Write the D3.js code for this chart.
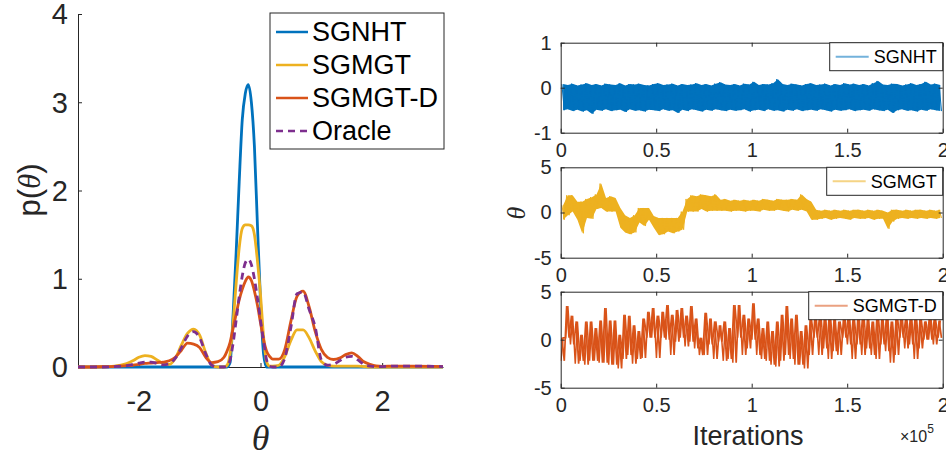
<!DOCTYPE html>
<html>
<head>
<meta charset="utf-8">
<script src="https://cdn.jsdelivr.net/npm/d3@7"></script>
<style>
    body { margin: 0; background: #fff; }
    svg { display: block; font-family: "Liberation Sans", Arial, sans-serif; }
    .axis text { fill: #262626; }
    .axis path, .axis line { stroke: #262626; }
</style>
</head>
<body>
<div id="chart"></div>
<script>
// ---- left panel: density p(theta) ----
const theta = [-3, -2.6, -2.4, -2.2, -2.1, -2.0, -1.9, -1.8, -1.7, -1.6, -1.5, -1.4, -1.3, -1.2, -1.1, -1.0, -0.9, -0.8, -0.7, -0.6,
    -0.55, -0.5, -0.45, -0.4, -0.35, -0.3, -0.25, -0.2, -0.15, -0.1, -0.05, 0, 0.05, 0.1, 0.15,
    0.2, 0.3, 0.4, 0.5, 0.6, 0.7, 0.8, 0.9, 1.0, 1.1, 1.2, 1.3, 1.4, 1.5, 1.6, 1.7, 1.8, 1.9, 2.0, 2.2, 2.5, 3];

const densSGNHT = [0, 0, 0, 0, 0, 0, 0, 0, 0, 0, 0, 0, 0, 0, 0, 0, 0, 0, 0, 0,
    0, 0.05, 0.6, 1.3, 2.1, 2.8, 3.1, 3.2, 3.0, 2.5, 1.6, 0.75, 0.15, 0, 0,
    0, 0, 0, 0, 0, 0, 0, 0, 0, 0, 0, 0, 0, 0, 0, 0, 0, 0, 0, 0, 0, 0];

const densSGMGT = [0, 0.003, 0.01, 0.04, 0.07, 0.11, 0.13, 0.12, 0.08, 0.04, 0.03, 0.1, 0.25, 0.38, 0.43, 0.36, 0.16, 0.02, 0, 0,
    0.02, 0.15, 0.5, 0.95, 1.35, 1.57, 1.61, 1.61, 1.6, 1.5, 1.2, 0.82, 0.35, 0.06, 0.01,
    0.01, 0.02, 0.12, 0.3, 0.42, 0.42, 0.33, 0.18, 0.06, 0.02, 0.01, 0.01, 0.01, 0.01, 0.01, 0.005, 0, 0, 0, 0, 0, 0];

const densSGMGTD = [0, 0.003, 0.008, 0.015, 0.02, 0.03, 0.04, 0.045, 0.05, 0.055, 0.07, 0.11, 0.19, 0.27, 0.26, 0.22, 0.11, 0.05, 0.06, 0.11,
    0.18, 0.28, 0.44, 0.6, 0.76, 0.88, 0.97, 1.02, 0.98, 0.86, 0.7, 0.5, 0.31, 0.18, 0.12,
    0.09, 0.09, 0.2, 0.52, 0.8, 0.86, 0.68, 0.4, 0.2, 0.11, 0.085, 0.1, 0.14, 0.16, 0.12, 0.06, 0.03, 0.012, 0.008, 0.01, 0.01, 0.005];

const densOracle = [0, 0, 0.005, 0.015, 0.03, 0.045, 0.055, 0.055, 0.04, 0.025, 0.035, 0.1, 0.22, 0.35, 0.4, 0.33, 0.15, 0.02, 0, 0,
    0.01, 0.08, 0.27, 0.53, 0.8, 1.03, 1.18, 1.22, 1.16, 1.0, 0.78, 0.53, 0.3, 0.08, 0.01,
    0, 0, 0.1, 0.45, 0.83, 0.85, 0.65, 0.45, 0.08, 0.02, 0.03, 0.07, 0.11, 0.12, 0.08, 0.03, 0.01, 0.005, 0.005, 0.01, 0.01, 0.005];

const thetaTicks = [-2, 0, 2];
const densTicks = [0, 1, 2, 3, 4];

// ---- right panels: traces, per-bin max / min (bin = 0.025 x 10^5 iterations) ----
const binWidth = 0.025;
const iterTicks = [0, 0.5, 1, 1.5, 2];

const sgnhtHi = [0.08, 0.06, 0.09, 0.05, 0.07, 0.10, 0.06, 0.08, 0.05, 0.09,
    0.07, 0.06, 0.10, 0.05, 0.08, 0.07, 0.09, 0.06, 0.05, 0.08,
    0.10, 0.06, 0.07, 0.09, 0.05, 0.08, 0.06, 0.07, 0.10, 0.06,
    0.08, 0.05, 0.09, 0.12, 0.07, 0.06, 0.08, 0.05, 0.09, 0.07,
    0.13, 0.06, 0.08, 0.07, 0.10, 0.19, 0.08, 0.06, 0.09, 0.07,
    0.05, 0.08, 0.10, 0.06, 0.07, 0.09, 0.05, 0.08, 0.06, 0.10,
    0.07, 0.09, 0.06, 0.08, 0.05, 0.10, 0.15, 0.07, 0.06, 0.09,
    0.08, 0.05, 0.07, 0.10, 0.06, 0.08, 0.13, 0.07, 0.09, 0.06];
const sgnhtLo = [-0.50, -0.48, -0.52, -0.49, -0.53, -0.50, -0.58, -0.49, -0.51, -0.48,
    -0.52, -0.50, -0.49, -0.54, -0.48, -0.51, -0.50, -0.53, -0.49, -0.50,
    -0.52, -0.48, -0.51, -0.50, -0.56, -0.49, -0.52, -0.48, -0.50, -0.53,
    -0.49, -0.51, -0.48, -0.50, -0.52, -0.49, -0.51, -0.50, -0.48, -0.53,
    -0.50, -0.49, -0.52, -0.48, -0.51, -0.50, -0.53, -0.49, -0.51, -0.48,
    -0.52, -0.50, -0.49, -0.51, -0.48, -0.50, -0.53, -0.49, -0.51, -0.50,
    -0.48, -0.52, -0.50, -0.49, -0.51, -0.48, -0.50, -0.52, -0.49, -0.56,
    -0.50, -0.48, -0.51, -0.50, -0.53, -0.49, -0.51, -0.48, -0.50, -0.52];

const sgmgtHi = [0.8, 1.9, 1.9, 1.2, 1.2, 1.5, 1.7, 2.0, 3.2, 1.6,
    1.8, 1.6, 0.5, -0.3, -0.6, -0.3, 0.5, 0.5, 0.5, -0.4,
    -0.6, -0.6, -0.6, -0.6, -0.6, 0.1, 1.5, 1.9, 1.8, 2.0,
    1.9, 1.8, 2.0, 1.4, 1.5, 1.3, 1.4, 1.3, 1.4, 1.3,
    1.4, 1.3, 1.5, 1.4, 1.3, 1.5, 1.4, 1.4, 1.5, 1.4,
    2.0, 1.5, 1.2, 0.3, 0.2, 0.3, 0.2, 0.3, 0.2, 0.3,
    0.2, 0.3, 0.3, 0.2, 0.3, 0.2, 0.3, 0.2, 0.0, 0.3,
    0.3, 0.2, 0.3, 0.2, 0.3, 0.3, 0.2, 0.3, 0.2, 0.3];
const sgmgtLo = [-0.8, -0.3, 0.1, -0.8, -2.3, -0.6, -0.7, 0.4, 0.5, 0.1,
    0.1, 0.1, -1.7, -2.2, -2.4, -2.2, -1.1, -1.5, -0.8, -1.7,
    -2.5, -2.4, -2.1, -2.3, -2.1, -1.9, 0.1, 0.1, 0.1, 0.4,
    0.1, 0.2, 0.2, 0.2, 0.2, 0.1, 0.2, 0.2, 0.1, 0.2,
    0.2, 0.1, 0.3, 0.2, 0.2, 0.3, 0.2, 0.1, 0.3, 0.2,
    0.3, 0.1, -0.8, -0.8, -0.7, -0.6, -0.8, -0.7, -0.6, -0.7,
    -0.8, -0.6, -0.7, -0.7, -0.6, -0.8, -0.7, -0.7, -1.8, -1.0,
    -0.7, -0.6, -0.7, -0.6, -0.7, -0.6, -0.7, -0.6, -0.7, -0.6];

const sgmgtdHi = [0.2, 3.5, 2.5, 1.9, 0.5, 1.9, 1.9, 1.2, 2.0, 3.3,
    2.0, 2.0, 0.5, 2.6, 2.5, 1.5, 0.9, 2.2, 2.9, 3.3,
    2.5, 2.9, 3.6, 2.6, 3.1, 3.3, 2.5, 3.5, 2.2, 0.2,
    2.8, 2.2, 1.9, 1.5, 1.9, 1.2, 3.6, 3.6, 2.6, 2.2,
    3.8, 2.2, 1.2, 1.9, 0.9, 1.9, 2.6, 3.5, 2.2, 2.6,
    0.9, 1.5, 2.2, 2.6, 2.6, 2.5, 2.6, 2.2, 1.9, 2.5,
    2.6, 2.2, 2.5, 2.6, 2.2, 1.9, 2.6, 2.2, 2.6, 1.9,
    2.5, 2.6, 2.2, 2.6, 2.5, 2.2, 1.9, 2.5, 2.2, 2.0];
const sgmgtdLo = [-2.2, 0.2, -0.5, -2.5, -2.2, -2.6, -2.2, -2.2, -2.4, -2.4,
    -2.6, -2.6, -3.0, -2.0, -1.6, -2.5, -2.0, -1.9, 0.2, 0.2,
    -1.9, 0.2, 0.0, -1.6, -0.2, 0.2, -0.7, -0.2, -0.9, -1.6,
    -1.6, -0.5, -2.0, -0.2, -2.2, -2.0, -2.4, 0.2, -1.6, -0.9,
    0.0, -1.6, -2.0, -2.2, -2.6, -2.8, -2.2, -1.6, -2.0, -2.6,
    -2.6, -3.0, -1.6, 0.2, -1.6, -0.9, -2.0, -1.2, -1.6, 0.2,
    -0.5, -2.0, -0.5, -1.6, -0.9, -1.6, -2.0, -0.5, -1.2, -2.4,
    -1.6, 0.2, -0.9, -0.5, -2.0, -0.9, 0.0, 0.0, -0.5, 0.2];

const colors = {SGNHT: '#0072BD', SGMGT: '#EDB120', 'SGMGT-D': '#D95319', Oracle: '#7E2F8E'};

const W = 946, H = 455;
const svg = d3.select('#chart').append('svg').attr('width', W).attr('height', H);

/* ================= left panel ================= */
const xL = d3.scaleLinear().domain([-3, 3]).range([78, 443]);
const yL = d3.scaleLinear().domain([0, 4]).range([367, 14]);

const gxL = svg.append('g').attr('class', 'axis')
    .attr('transform', `translate(0,${yL(0)})`)
    .call(d3.axisBottom(xL).tickValues(thetaTicks).tickSizeInner(-4).tickSizeOuter(0)
        .tickPadding(23).tickFormat(d => String(d)));
gxL.select('.domain').attr('stroke', '#8c8c8c');
gxL.selectAll('text').attr('font-size', 29);

const gyL = svg.append('g').attr('class', 'axis')
    .attr('transform', `translate(${xL(-3)},0)`)
    .call(d3.axisLeft(yL).tickValues(densTicks).tickSizeInner(-4).tickSizeOuter(0)
        .tickPadding(10).tickFormat(d => String(d)));
gyL.selectAll('text').attr('font-size', 29).attr('dy', '0.34em');

const densLine = d3.line()
    .x((d, i) => xL(theta[i]))
    .y(d => yL(d))
    .curve(d3.curveMonotoneX);

const densSeries = [
    {name: 'SGNHT', values: densSGNHT, dash: null},
    {name: 'SGMGT', values: densSGMGT, dash: null},
    {name: 'SGMGT-D', values: densSGMGTD, dash: null},
    {name: 'Oracle', values: densOracle, dash: '7,5'}
];

svg.append('g').selectAll('path')
    .data(densSeries)
    .join('path')
    .attr('d', d => densLine(d.values))
    .attr('fill', 'none')
    .attr('stroke', d => colors[d.name])
    .attr('stroke-width', 2.8)
    .attr('stroke-linejoin', 'round')
    .attr('stroke-dasharray', d => d.dash);

// labels
svg.append('text')
    .attr('transform', 'translate(40,190) rotate(-90)')
    .attr('text-anchor', 'middle')
    .attr('font-size', 31)
    .attr('fill', '#262626')
    .call(t => {
        t.append('tspan').text('p(');
        t.append('tspan').attr('font-family', '"Liberation Serif", serif').attr('font-style', 'italic').text('θ');
        t.append('tspan').text(')');
    });

svg.append('text')
    .attr('x', xL(0)).attr('y', 450)
    .attr('text-anchor', 'middle')
    .attr('font-family', '"Liberation Serif", serif')
    .attr('font-style', 'italic')
    .attr('font-size', 36)
    .attr('fill', '#262626')
    .text('θ');

// legend
const legL = svg.append('g').attr('transform', 'translate(270,13)');
legL.append('rect').attr('width', 174).attr('height', 136)
    .attr('fill', '#fff').attr('stroke', '#262626').attr('stroke-width', 1);
densSeries.forEach((s, i) => {
    const y = 19 + i * 33;
    legL.append('line').attr('x1', 6).attr('x2', 38).attr('y1', y).attr('y2', y)
        .attr('stroke', colors[s.name]).attr('stroke-width', 2.5)
        .attr('stroke-dasharray', s.dash);
    legL.append('text').attr('x', 42).attr('y', y).attr('dy', '0.35em')
        .attr('font-size', 27).attr('fill', '#000').text(s.name);
});

/* ================= right panels ================= */
const xR = d3.scaleLinear().domain([0, 2]).range([560.7, 942.7]);

const panels = [
    {name: 'SGNHT', top: 42.7, bottom: 132.7, dom: [-1, 1], ticks: [-1, 0, 1], hi: sgnhtHi, lo: sgnhtLo, band: true},
    {name: 'SGMGT', top: 167.3, bottom: 257.7, dom: [-5, 5], ticks: [-5, 0, 5], hi: sgmgtHi, lo: sgmgtLo, band: true},
    {name: 'SGMGT-D', top: 291.7, bottom: 387.7, dom: [-5, 5], ticks: [-5, 0, 5], hi: sgmgtdHi, lo: sgmgtdLo, band: false}
];

panels.forEach((p, pi) => {
    const y = d3.scaleLinear().domain(p.dom).range([p.bottom, p.top]);
    const g = svg.append('g');

    const clipId = 'clip' + pi;
    g.append('clipPath').attr('id', clipId).append('rect')
        .attr('x', xR(0)).attr('y', p.top)
        .attr('width', xR(2) - xR(0)).attr('height', p.bottom - p.top);

    const plot = g.append('g').attr('clip-path', `url(#${clipId})`);

    if (p.band) {
        const area = d3.area()
            .x((d, i) => xR((i + 0.5) * binWidth))
            .y0((d, i) => y(p.lo[i]))
            .y1(d => y(d));
        plot.append('path').attr('d', area(p.hi)).attr('fill', colors[p.name]);
    }

    // zigzag through max then min of each bin (and a crossing one for the loose trace)
    const zigA = [], zigB = [];
    p.hi.forEach((h, i) => {
        zigA.push([xR((i + 0.25) * binWidth), y(h)]);
        zigA.push([xR((i + 0.75) * binWidth), y(p.lo[i])]);
        zigB.push([xR((i + 0.05) * binWidth), y(p.lo[i])]);
        zigB.push([xR((i + 0.5) * binWidth), y(h)]);
    });
    plot.append('path').attr('d', d3.line()(zigA))
        .attr('fill', 'none').attr('stroke', colors[p.name])
        .attr('stroke-width', p.band ? 1 : 1.7);
    if (!p.band) {
        plot.append('path').attr('d', d3.line()(zigB))
            .attr('fill', 'none').attr('stroke', colors[p.name])
            .attr('stroke-width', 1.5);
    }

    // axes (box with inner ticks)
    const bx = g.append('g').attr('class', 'axis').attr('transform', `translate(0,${p.bottom})`)
        .call(d3.axisBottom(xR).tickValues(iterTicks).tickSizeInner(-4).tickSizeOuter(0)
            .tickPadding(10).tickFormat(d => String(d)));
    bx.selectAll('text').attr('font-size', 20);
    g.append('g').attr('class', 'axis').attr('transform', `translate(0,${p.top})`)
        .call(d3.axisTop(xR).tickValues(iterTicks).tickSizeInner(-4).tickSizeOuter(0).tickFormat(''));
    const ly = g.append('g').attr('class', 'axis').attr('transform', `translate(${xR(0)},0)`)
        .call(d3.axisLeft(y).tickValues(p.ticks).tickSizeInner(-4).tickSizeOuter(0)
            .tickPadding(9).tickFormat(d => String(d)));
    ly.selectAll('text').attr('font-size', 20);
    g.append('g').attr('class', 'axis').attr('transform', `translate(${xR(2)},0)`)
        .call(d3.axisRight(y).tickValues(p.ticks).tickSizeInner(-4).tickSizeOuter(0).tickFormat(''));

    // legend, top right corner
    const leg = g.append('g');
    const txt = leg.append('text').attr('font-size', 18).attr('fill', '#000').text(p.name);
    const tw = txt.node().getComputedTextLength();
    const lw = 6 + 33 + 5 + tw + 6, lh = 28;
    const lx = xR(2) - lw, lyTop = p.top;
    leg.insert('rect', 'text').attr('x', lx).attr('y', lyTop).attr('width', lw).attr('height', lh)
        .attr('fill', '#fff').attr('stroke', '#262626').attr('stroke-width', 1);
    leg.insert('line', 'text').attr('x1', lx + 6).attr('x2', lx + 39)
        .attr('y1', lyTop + lh / 2).attr('y2', lyTop + lh / 2)
        .attr('stroke', colors[p.name]).attr('stroke-opacity', 0.55).attr('stroke-width', 2);
    txt.attr('x', lx + 44).attr('y', lyTop + lh / 2).attr('dy', '0.35em');
});

// right labels
svg.append('text')
    .attr('transform', 'translate(525,213) rotate(-90)')
    .attr('text-anchor', 'middle')
    .attr('font-family', '"Liberation Serif", serif')
    .attr('font-style', 'italic')
    .attr('font-size', 26)
    .attr('fill', '#262626')
    .text('θ');

svg.append('text')
    .attr('x', 748).attr('y', 445)
    .attr('text-anchor', 'middle')
    .attr('font-size', 27)
    .attr('fill', '#262626')
    .text('Iterations');

svg.append('text')
    .attr('x', 900).attr('y', 442)
    .attr('font-size', 16)
    .attr('fill', '#262626')
    .call(t => {
        t.append('tspan').text('×10');
        t.append('tspan').attr('font-size', 12).attr('dy', -9).text('5');
    });
</script>
</body>
</html>
